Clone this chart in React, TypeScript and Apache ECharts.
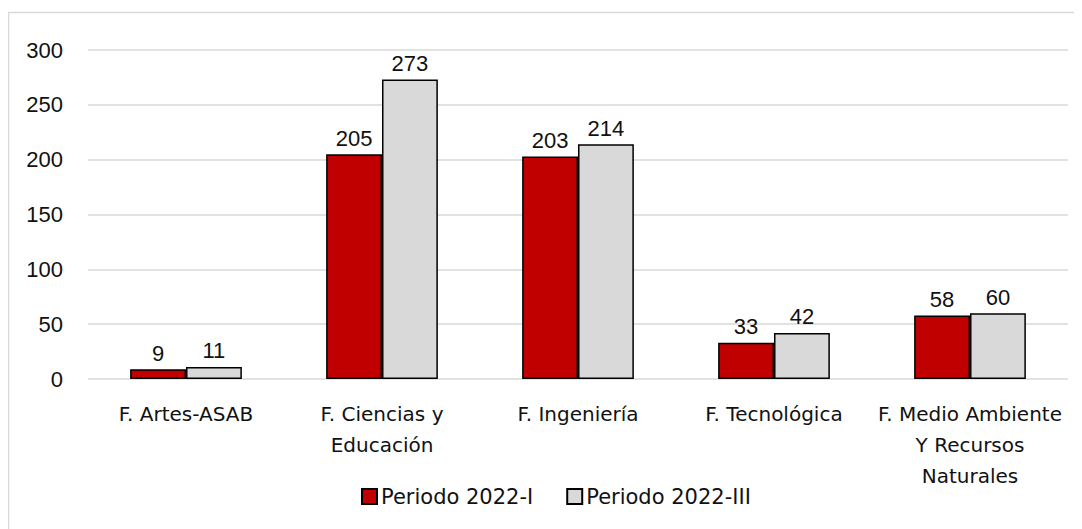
import React, { useEffect, useRef } from "react";
import * as echarts from "echarts";

const categories = [
  "F. Artes-ASAB",
  "F. Ciencias y\nEducación",
  "F. Ingeniería",
  "F. Tecnológica",
  "F. Medio Ambiente\nY Recursos\nNaturales",
];
const periodo1 = [9, 205, 203, 33, 58];
const periodo3 = [11, 273, 214, 42, 60];
const seriesNames = ["Periodo 2022-I", "Periodo 2022-III"];

const FONT = "'DejaVu Sans', 'Noto Sans', sans-serif";
const NUMFONT = "'Liberation Sans', Arial, sans-serif";

export default function App() {
  const ref = useRef<HTMLDivElement>(null);
  useEffect(() => {
    const chart = echarts.init(ref.current!, null, { renderer: "svg" });
    const label = {
      show: true,
      position: "top" as const,
      distance: 5,
      color: "#111",
      fontSize: 22,
      fontFamily: NUMFONT,
    };
    chart.setOption({
      animation: false,
      graphic: [
        {
          type: "rect",
          shape: { x: 0.5, y: 4.5, width: 1071, height: 540 },
          style: { fill: "none", stroke: "#D9D9D9", lineWidth: 1.5 },
          silent: true,
        },
      ],
      grid: { left: 80, right: 14, top: 42, bottom: 150, containLabel: false },
      legend: {
        left: 348,
        top: 473,
        itemWidth: 15,
        itemHeight: 15,
        itemGap: 33,
        icon: "rect",
        textStyle: { fontSize: 21, color: "#111", fontFamily: FONT, padding: [0, 0, 0, -1] },
        data: seriesNames,
      },
      xAxis: {
        type: "category",
        data: categories,
        axisLine: { show: false },
        axisTick: { show: false },
        axisLabel: {
          interval: 0,
          margin: 19,
          fontSize: 20,
          lineHeight: 31,
          color: "#111",
          fontFamily: FONT,
        },
      },
      yAxis: {
        type: "value",
        min: 0,
        max: 300,
        interval: 50,
        axisLabel: {
          margin: 25,
          fontSize: 22,
          color: "#111",
          fontFamily: NUMFONT,
        },
        splitLine: { lineStyle: { color: "#D9D9D9", width: 1.5 } },
      },
      series: [
        {
          name: seriesNames[0],
          type: "bar",
          data: periodo1,
          barGap: "0%",
          barCategoryGap: "43%",
          itemStyle: { color: "#C00000", borderColor: "#000", borderWidth: 1.5 },
          label,
        },
        {
          name: seriesNames[1],
          type: "bar",
          data: periodo3,
          itemStyle: { color: "#D9D9D9", borderColor: "#000", borderWidth: 1.5 },
          label,
        },
      ],
    });
    return () => chart.dispose();
  }, []);
  return <div ref={ref} style={{ width: 1074, height: 521 }} />;
}
